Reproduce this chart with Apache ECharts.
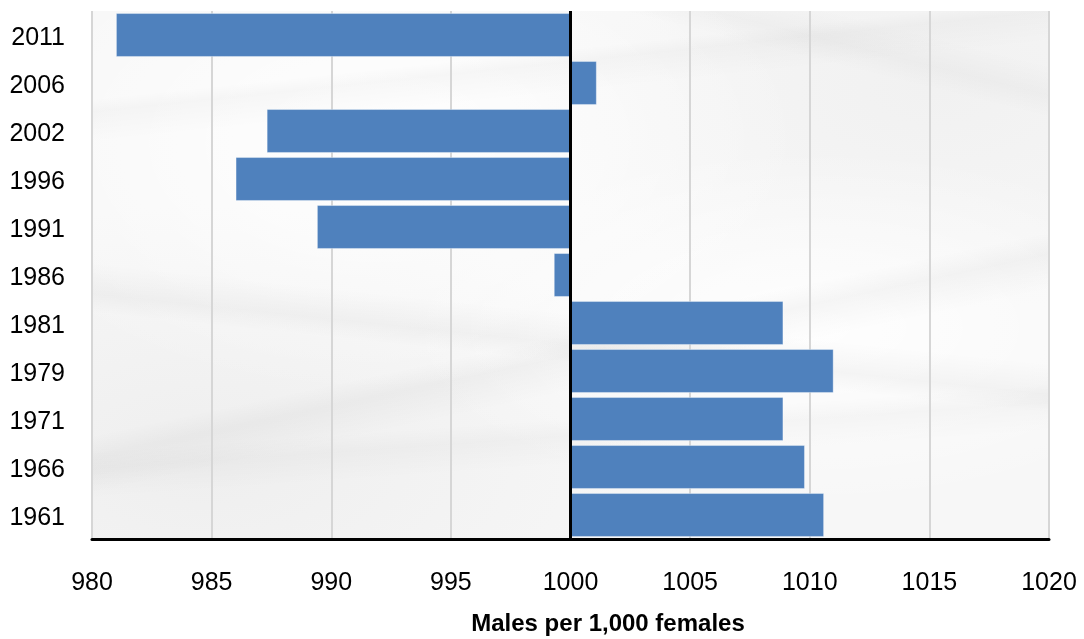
<!DOCTYPE html>
<html>
<head>
<meta charset="utf-8">
<script src="https://cdn.jsdelivr.net/npm/echarts@6/dist/echarts.min.js"></script>
<style>
  html, body { margin: 0; padding: 0; background: #ffffff; }
  #wrap { position: relative; width: 1084px; height: 639px; }
  /* crumpled-paper backdrop behind the plot area */
  #paper {
    position: absolute; left: 92px; top: 11px; width: 957px; height: 528px;
    background:
      linear-gradient(174deg, transparent 14%, rgba(0,0,0,0.025) 16%, transparent 21%),
      linear-gradient(6deg, transparent 36%, rgba(0,0,0,0.03) 39%, transparent 44%),
      linear-gradient(168deg, transparent 58%, rgba(0,0,0,0.03) 61%, transparent 66%),
      linear-gradient(176deg, transparent 74%, rgba(0,0,0,0.025) 77%, transparent 82%),
      linear-gradient(14deg, transparent 86%, rgba(0,0,0,0.025) 89%, transparent 93%),
      radial-gradient(ellipse at 30% 25%, rgba(255,255,255,0.95), transparent 45%),
      radial-gradient(ellipse at 75% 60%, rgba(255,255,255,0.9), transparent 40%),
      radial-gradient(ellipse at 12% 85%, rgba(228,228,228,0.45), transparent 40%),
      radial-gradient(ellipse at 88% 15%, rgba(232,232,232,0.4), transparent 35%),
      #f7f7f7;
  }
  #chart { position: absolute; left: 0; top: 0; width: 1084px; height: 639px; }
</style>
</head>
<body>
<div id="wrap">
  <div id="paper"></div>
  <div id="chart"></div>
</div>
<script>
// Census years, bottom to top
const years = ['1961', '1966', '1971', '1979', '1981', '1986', '1991', '1996', '2002', '2006', '2011'];
// Males per 1,000 females
const ratio = [1010.6, 1009.8, 1008.9, 1011.0, 1008.9, 999.3, 989.4, 986.0, 987.3, 1001.1, 981.0];
// Bars grow from the parity line
const baseline = 1000;
const axisMin = 980;
const axisMax = 1020;
const axisStep = 5;
const axisTitle = 'Males per 1,000 females';

const font = '"Liberation Sans", Arial, sans-serif';
const chart = echarts.init(document.getElementById('chart'), null, { renderer: 'canvas' });

chart.setOption({
  backgroundColor: 'transparent',
  animation: false,
  grid: { left: 92, right: 35, top: 11, bottom: 100, containLabel: false },
  xAxis: {
    type: 'value',
    min: axisMin - baseline,
    max: axisMax - baseline,
    interval: axisStep,
    axisLine: { show: true, onZero: false, lineStyle: { color: '#000', width: 3 } },
    axisTick: { show: false },
    axisLabel: {
      margin: 32,
      fontSize: 25,
      fontFamily: font,
      color: '#000',
      formatter: v => String(v + baseline)
    },
    splitLine: { show: true, lineStyle: { color: '#d6d6d6', width: 2 } }
  },
  yAxis: {
    type: 'category',
    data: years,
    axisLine: { show: false },
    axisTick: { show: false },
    axisLabel: {
      margin: 27,
      formatter: v => '{yr|' + v + '}',
      rich: {
        yr: { fontSize: 25, fontFamily: font, color: '#000', padding: [7, 0, 0, 0] }
      }
    },
    splitLine: { show: false }
  },
  series: [{
    type: 'bar',
    data: ratio.map(v => +(v - baseline).toFixed(2)),
    barCategoryGap: '8.5%',
    itemStyle: { color: '#4f81bd', borderColor: 'rgba(255,255,255,0.35)', borderWidth: 1 },
    markLine: {
      silent: true,
      symbol: 'none',
      label: { show: false },
      lineStyle: { color: '#000', width: 3, type: 'solid' },
      data: [{ xAxis: 0 }],
      z: 5
    }
  }],
  graphic: [{
    type: 'text',
    style: {
      x: 608,
      y: 624,
      text: axisTitle,
      align: 'center',
      verticalAlign: 'middle',
      font: 'bold 24px ' + font,
      fill: '#000'
    }
  }]
});
</script>
</body>
</html>
